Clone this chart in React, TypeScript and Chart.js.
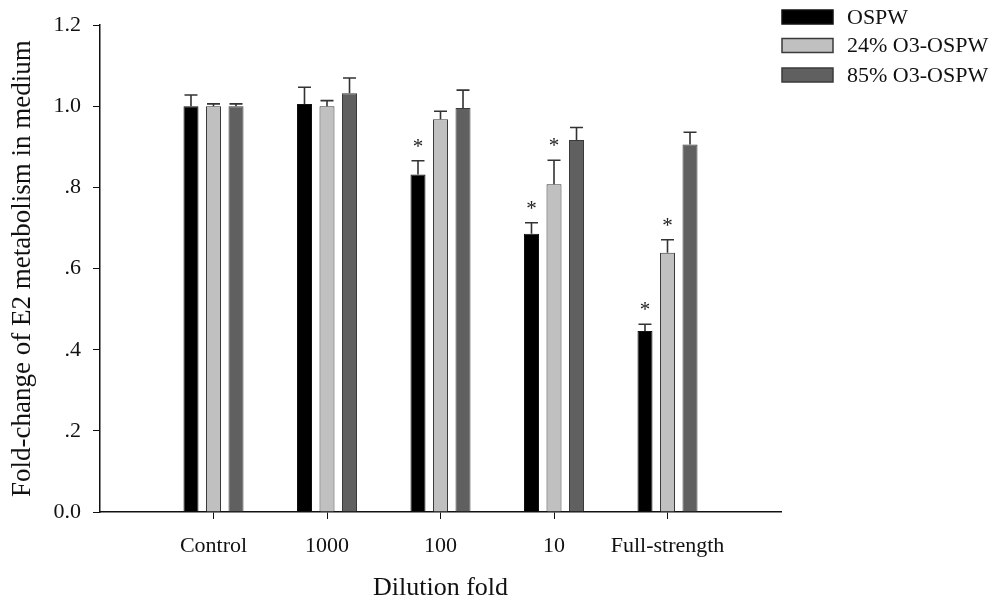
import React, { useEffect, useRef } from "react";
import { Chart, registerables } from "chart.js";

Chart.register(...registerables);

const categories = ["Control", "1000", "100", "10", "Full-strength"];
const seriesNames = ["OSPW", "24% O3-OSPW", "85% O3-OSPW"];
const ospw = [1.0, 1.006, 0.832, 0.686, 0.446];
const ospwErr = [0.028, 0.041, 0.034, 0.027, 0.017];
const o3_24 = [1.0, 1.0, 0.968, 0.808, 0.639];
const o3_24Err = [0.006, 0.014, 0.02, 0.059, 0.032];
const o3_85 = [1.0, 1.032, 0.996, 0.917, 0.906];
const o3_85Err = [0.006, 0.038, 0.044, 0.031, 0.03];
const ospwSig = [false, false, true, true, true];
const o3_24Sig = [false, false, false, true, true];
const o3_85Sig = [false, false, false, false, false];
const yTicks = [0, 0.2, 0.4, 0.6, 0.8, 1.0, 1.2];

const FONT = "'Liberation Serif', 'Times New Roman', serif";

const fills = ["#000000", "#c0c0c0", "#606060"];
const borders = ["#111111", "#3a3a3a", "#3a3a3a"];

const errorsAll = [ospwErr, o3_24Err, o3_85Err];
const sigAll = [ospwSig, o3_24Sig, o3_85Sig];

const errorBarPlugin = {
  id: "errorBars",
  afterDatasetsDraw(chart: any) {
    const ctx = chart.ctx;
    const yScale = chart.scales.y;
    chart.data.datasets.forEach((ds: any, di: number) => {
      const meta = chart.getDatasetMeta(di);
      meta.data.forEach((el: any, i: number) => {
        const v = ds.data[i].y;
        const e = errorsAll[di][i];
        const yTop = yScale.getPixelForValue(v + e);
        const x = el.x;
        ctx.save();
        ctx.strokeStyle = "#333333";
        ctx.lineWidth = 1.6;
        ctx.beginPath();
        ctx.moveTo(x, el.y);
        ctx.lineTo(x, yTop);
        ctx.moveTo(x - 6.5, yTop);
        ctx.lineTo(x + 6.5, yTop);
        ctx.stroke();
        if (sigAll[di][i]) {
          ctx.fillStyle = "#222222";
          ctx.font = `21px ${FONT}`;
          ctx.textAlign = "center";
          ctx.textBaseline = "alphabetic";
          ctx.fillText("*", x, yTop - 8);
        }
        ctx.restore();
      });
    });
  },
};

const legendPlugin = {
  id: "customLegend",
  afterDraw(chart: any) {
    const ctx = chart.ctx;
    const boxX = 782;
    const boxW = 51;
    const boxH = 14;
    const centers = [17, 45.5, 75];
    chart.data.datasets.forEach((ds: any, di: number) => {
      const cy = centers[di];
      ctx.save();
      ctx.fillStyle = ds.backgroundColor;
      ctx.fillRect(boxX, cy - boxH / 2, boxW, boxH);
      ctx.strokeStyle = ds.borderColor;
      ctx.lineWidth = 1.5;
      ctx.strokeRect(boxX, cy - boxH / 2, boxW, boxH);
      ctx.fillStyle = "#111111";
      ctx.font = `22px ${FONT}`;
      ctx.textAlign = "left";
      ctx.textBaseline = "middle";
      ctx.fillText(ds.label, 847, cy + 1);
      ctx.restore();
    });
  },
};

export default function App() {
  const canvasRef = useRef<HTMLCanvasElement | null>(null);

  useEffect(() => {
    document.body.style.margin = "0";
    document.body.style.overflow = "hidden";
    const canvas = canvasRef.current;
    if (!canvas) return;
    const seriesVals = [ospw, o3_24, o3_85];
    const chart = new Chart(canvas, {
      type: "bar",
      data: {
        datasets: seriesVals.map((vals, di) => ({
          label: seriesNames[di],
          data: vals.map((v, i) => ({ x: i, y: v })),
          backgroundColor: fills[di],
          borderColor: borders[di],
          borderWidth: 1,
          categoryPercentage: 0.595,
          barPercentage: 0.667,
        })),
      },
      options: {
        animation: false,
        responsive: false,
        maintainAspectRatio: false,
        events: [],
        layout: { padding: { top: 20, right: 217, bottom: 0, left: 0 } },
        plugins: {
          legend: { display: false },
          tooltip: { enabled: false },
        },
        scales: {
          x: {
            type: "linear",
            min: -1,
            max: 5,
            offset: false,
            afterBuildTicks: (scale: any) => {
              scale.ticks = categories.map((_, i) => ({ value: i }));
            },
            afterFit: (scale: any) => {
              scale.height = 91;
            },
            grid: {
              display: true,
              offset: false,
              drawOnChartArea: false,
              drawTicks: true,
              tickLength: 7,
              color: "#111111",
              lineWidth: 1,
            },
            border: { display: true, color: "#111111", width: 1.5 },
            ticks: {
              autoSkip: false,
              maxRotation: 0,
              padding: 14,
              color: "#111111",
              font: { family: FONT, size: 22 },
              callback: (v: any) => categories[Math.round(Number(v))] ?? "",
            },
            title: {
              display: true,
              text: "Dilution fold",
              color: "#111111",
              font: { family: FONT, size: 26 },
              padding: { top: 0, bottom: -1 },
            },
          },
          y: {
            type: "linear",
            min: 0,
            max: 1.2,
            afterBuildTicks: (scale: any) => {
              scale.ticks = yTicks.map((v) => ({ value: v }));
            },
            afterFit: (scale: any) => {
              scale.width = 100;
            },
            grid: {
              display: true,
              drawOnChartArea: false,
              drawTicks: true,
              tickLength: 7,
              color: "#111111",
              lineWidth: 1,
            },
            border: { display: true, color: "#111111", width: 1.5 },
            ticks: {
              padding: 12,
              color: "#111111",
              font: { family: FONT, size: 22 },
              callback: (v: any) => {
                const r = Math.round(Number(v) * 10) / 10;
                if (r === 0) return "0.0";
                const s = r.toFixed(1);
                return r < 1 ? s.replace(/^0/, "") : s;
              },
            },
            title: {
              display: true,
              text: "Fold-change of E2 metabolism in medium",
              color: "#111111",
              font: { family: FONT, size: 27 },
              padding: { top: 7, bottom: 0 },
            },
          },
        },
      },
      plugins: [errorBarPlugin, legendPlugin],
    } as any);
    return () => {
      chart.destroy();
    };
  }, []);

  return (
    <div style={{ width: 998, height: 603, background: "#ffffff" }}>
      <canvas ref={canvasRef} width={998} height={603} style={{ display: "block", width: 998, height: 603 }} />
    </div>
  );
}
